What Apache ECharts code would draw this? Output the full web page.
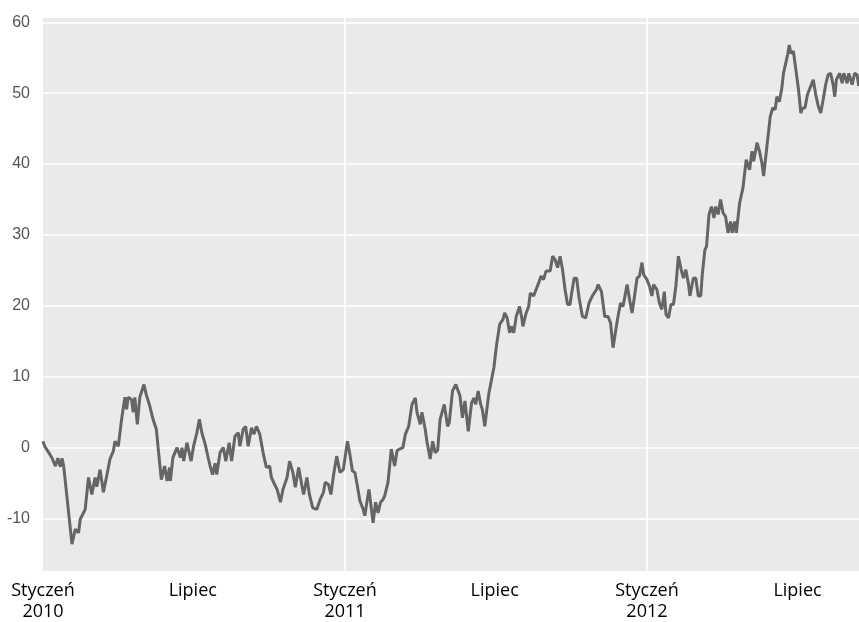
<!DOCTYPE html>
<html><head><meta charset="utf-8">
<script src="https://cdn.jsdelivr.net/npm/echarts@6/dist/echarts.min.js"></script>
<style>html,body{margin:0;padding:0;background:#fff}#c{width:859px;height:622px}</style>
</head><body><div id="c"></div>
<script>
// days since 2010-01-01 and series values
const days = [0,2,7,11,15,18,21,23,25,35,39,43,45,51,55,59,63,65,69,73,77,81,85,87,91,95,99,101,103,107,109,111,114,117,122,125,129,133,137,139,143,147,150,153,154,157,162,166,168,170,174,176,179,182,186,189,192,196,200,202,205,208,210,214,218,221,225,228,232,236,238,242,245,248,252,255,258,262,266,270,274,276,280,283,287,290,295,298,302,305,309,313,315,319,322,326,331,335,339,341,345,348,351,355,359,363,368,371,374,377,380,383,387,389,392,394,397,399,402,405,408,411,413,417,421,425,428,431,435,438,442,446,450,452,456,458,462,464,468,471,474,477,480,482,485,489,491,495,499,504,507,510,514,518,521,523,526,529,531,534,537,539,543,545,548,552,556,558,561,564,566,569,572,576,579,580,584,587,589,593,596,599,602,605,608,613,616,619,622,625,628,631,634,637,639,642,645,648,652,656,660,664,669,671,675,679,683,686,689,693,695,698,701,703,706,709,712,715,718,721,724,726,730,733,736,738,742,745,748,751,753,756,759,762,765,768,771,774,777,780,782,786,789,792,795,797,800,802,805,808,811,813,816,819,822,825,828,831,833,836,838,842,846,850,854,857,859,863,866,869,871,875,879,882,885,887,890,893,895,897,900,902,904,907,910,913,916,918,921,924,927,929,931,934,937,940,943,946,949,952,955,957,959,963,966,968,972,974,978,981,984,986];
const values = [0.9,0.2,-0.7,-1.5,-2.6,-1.5,-2.7,-1.5,-2.6,-13.6,-11.5,-12.0,-10.1,-8.7,-4.2,-6.6,-4.2,-5.5,-3.1,-6.3,-4.0,-1.6,-0.5,0.9,0.2,4.0,7.1,5.4,7.1,6.8,5.0,7.1,3.3,7.1,8.9,7.4,5.9,4.0,2.6,0.2,-4.5,-2.6,-4.7,-2.8,-4.7,-1.4,0.0,-1.4,0.0,-1.9,0.7,0.9,-1.9,0.2,2.1,4.0,2.1,0.5,-1.6,-2.6,-3.8,-2.2,-3.8,-0.7,0.0,-1.9,0.7,-1.9,1.6,2.1,0.2,2.6,3.0,0.2,2.8,1.9,3.0,1.9,-0.7,-2.8,-2.6,-4.2,-5.2,-5.9,-7.7,-5.9,-4.2,-1.9,-3.5,-5.6,-2.8,-5.4,-6.6,-4.2,-6.6,-8.5,-8.7,-7.3,-6.3,-4.9,-5.2,-6.6,-4.0,-1.2,-3.5,-3.1,0.9,-1.0,-3.3,-3.5,-5.4,-7.5,-8.7,-9.6,-7.3,-5.9,-8.7,-10.6,-7.7,-9.2,-7.7,-7.3,-6.8,-4.9,-0.2,-2.6,-0.4,-0.2,0.0,1.9,3.0,6.1,7.0,5.0,3.3,5.0,2.6,0.9,-1.6,0.9,-0.7,-0.4,4.0,4.0,6.1,3.0,3.5,8.0,8.9,7.3,4.2,6.6,2.3,6.3,7.0,6.1,8.0,6.1,5.4,3.0,5.9,7.7,10.1,11.3,14.3,17.4,18.1,19.0,18.3,16.2,17.1,16.2,18.5,19.9,18.1,17.1,19.0,19.9,21.8,21.4,22.3,23.2,24.2,23.7,24.9,24.9,27.0,26.5,25.4,27.0,25.1,22.3,20.2,20.2,21.8,23.9,23.9,21.1,18.5,18.3,20.4,21.4,22.3,23.0,22.0,18.5,18.5,17.6,14.1,17.1,18.5,20.4,19.9,21.1,23.0,20.9,19.0,21.4,23.9,24.2,26.1,24.4,23.7,22.8,21.4,23.0,22.3,20.4,19.5,22.0,18.8,18.3,20.2,20.2,22.8,27.0,25.3,23.9,25.1,23.2,21.4,23.9,23.9,21.4,21.4,24.6,27.9,28.4,32.9,34.0,32.4,34.0,32.9,35.0,33.1,32.6,30.3,31.9,30.3,31.9,30.3,34.5,36.6,40.6,39.2,41.8,40.4,43.0,41.8,40.1,38.3,42.5,46.7,47.9,47.7,49.5,48.8,50.7,52.8,53.0,55.4,56.8,55.6,55.9,53.3,50.7,47.2,47.9,47.9,49.8,50.7,50.7,51.9,49.8,48.2,47.2,49.1,51.2,52.6,52.8,51.2,49.5,51.9,52.8,51.4,52.8,51.4,52.8,51.2,52.8,52.6,51.0];
const yTicks = [-10, 0, 10, 20, 30, 40, 50, 60];
const xTickDates = [[2010,0,1],[2010,6,1],[2011,0,1],[2011,6,1],[2012,0,1],[2012,6,1]];
const xTickLabels = ['Styczeń\n2010','Lipiec','Styczeń\n2011','Lipiec','Styczeń\n2012','Lipiec'];
const yearGridDates = [[2011,0,1],[2012,0,1]];

const DAY = 86400000;
const t0 = Date.UTC(2010,0,1);
const dayOf = a => Math.round((Date.UTC(a[0],a[1],a[2]) - t0) / DAY);
const seriesData = days.map((d,i)=>[d, values[i]]);
const xTicks = xTickDates.map(dayOf);
const labelMap = {};
xTicks.forEach((t,i)=>labelMap[t]=xTickLabels[i]);

const gridLines = yTicks.map(v=>({yAxis:v}))
  .concat(yearGridDates.map(a=>({xAxis:dayOf(a)})));

const chart = echarts.init(document.getElementById('c'), null, {renderer:'canvas'});
chart.setOption({
  animation:false,
  backgroundColor:'#ffffff',
  grid:{left:43,right:0,top:18,bottom:50,show:true,backgroundColor:'#eaeaea',borderWidth:0},
  xAxis:{
    type:'value', min:0, max:986.3,
    axisLine:{show:false}, axisTick:{show:false}, splitLine:{show:false},
    axisLabel:{customValues:xTicks, formatter:v=>labelMap[Math.round(v)]||'', color:'#000',
      fontFamily:'Open Sans', fontSize:18, lineHeight:21, margin:9}
  },
  yAxis:{
    type:'value', min:-17.4, max:60.6,
    axisLine:{show:false}, axisTick:{show:false}, splitLine:{show:false},
    axisLabel:{customValues:yTicks, color:'#555', fontFamily:'Liberation Sans', fontSize:16, margin:13}
  },
  series:[{
    type:'line', data:seriesData, showSymbol:false, symbol:'none',
    lineStyle:{color:'#656565', width:3}, z:3,
    markLine:{silent:true, symbol:'none', z:1, label:{show:false},
      lineStyle:{color:'#ffffff', width:1.6, type:'solid'}, animation:false,
      emphasis:{disabled:true}, data:gridLines}
  }]
});
</script></body></html>
